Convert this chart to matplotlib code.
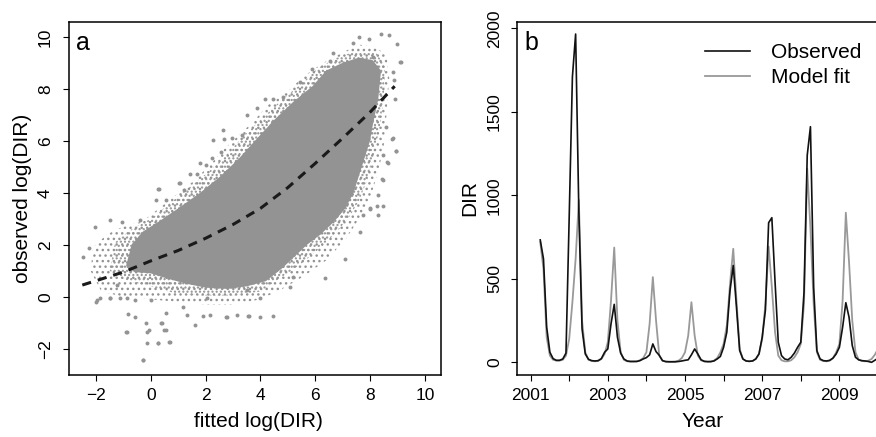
import matplotlib.pyplot as plt
import numpy as np

plt.rcParams['font.family'] = ['Liberation Sans', 'DejaVu Sans']
plt.rcParams['hatch.linewidth'] = 1.0

# ---- panel a: fitted vs observed log(DIR) ----
# outline of the solid part of the point cloud
core_x = [-0.9, -0.7, -0.3, 0.3, 1.0, 1.8, 2.5, 3.2, 3.8, 4.5, 5.2, 5.9, 6.4, 7.0, 7.6, 8.1,
          8.4, 8.3, 8.1, 8.0, 7.7, 7.4, 7.1, 6.7, 6.2, 5.7, 5.2, 4.8,
          4.2, 3.5, 2.8, 2.0, 1.3, 0.6, 0.0, -0.6]
core_y = [1.2, 2.0, 2.5, 2.9, 3.4, 4.0, 4.6, 5.3, 6.0, 6.8, 7.5, 8.1, 8.7, 9.0, 9.2, 9.1,
          8.7, 7.6, 6.6, 6.0, 5.0, 4.0, 3.4, 2.9, 2.4, 2.0, 1.5, 1.1,
          0.6, 0.4, 0.3, 0.35, 0.5, 0.7, 0.9, 0.95]
# outline of the half-dense band around the solid part
mid_x = [-1.5, -1.3, -0.7, 0.0, 0.7, 1.4, 2.1, 2.8, 3.4, 4.1, 4.8, 5.5, 6.1, 6.8, 7.5, 8.2,
         8.55, 8.5, 8.35, 8.15, 7.9, 7.6, 7.2, 6.7, 6.1, 5.4, 4.7, 4.0, 3.0, 2.0, 1.0, 0.0,
         -0.8]
mid_y = [1.0, 2.1, 2.6, 3.0, 3.6, 4.2, 4.8, 5.5, 6.2, 6.9, 7.6, 8.2, 8.8, 9.2, 9.45, 9.4,
         8.9, 7.6, 6.5, 5.5, 4.5, 3.7, 3.0, 2.4, 1.8, 1.2, 0.7, 0.2, 0.05, 0.05, 0.1, 0.4,
         0.6]
# outline of the thin outer fringe
fringe_x = [-2.2, -2.1, -1.6, -1.0, -0.3, 0.3, 0.9, 1.5, 2.1, 2.6, 3.1, 3.7, 4.3, 5.0, 5.6,
            6.3, 7.0, 7.6, 8.2, 8.6, 8.7, 8.6, 8.5, 8.3, 8.0, 7.6, 7.1, 6.4, 5.6, 4.8,
            4.0, 3.0, 2.0, 1.0, 0.0, -1.0, -1.8]
fringe_y = [1.0, 1.9, 2.4, 2.7, 2.9, 3.4, 3.9, 4.4, 5.0, 5.6, 6.1, 6.7, 7.4, 7.9, 8.5,
            9.0, 9.4, 9.7, 9.6, 9.3, 8.4, 7.0, 5.8, 4.8, 3.8, 3.0, 2.2, 1.4, 0.8, 0.3,
            -0.1, -0.3, -0.3, -0.2, -0.1, 0.0, 0.2]
# scattered points outside the cloud
pts_x = [-2.49, -2.24, -2.03, -1.98, -1.85, -1.49, -1.49, -1.12, -0.88, -0.84, -0.88, -0.58,
         -0.58, -0.15, -0.15, -0.27, 0.26, 0.37, 0.48, 0.70, 0.57, 1.61, 1.31, 1.92, 2.15,
         2.77, 3.13, 3.56, 3.99, 4.47, 3.99, 3.50, 5.08, 6.36, 5.20, 7.09, 7.64, 8.30, 8.49,
         8.00, 2.04, 1.19, 0.01, -1.25, -1.04, -0.41, 0.20, 0.30, 0.57, 1.03, 1.22, 1.70,
         2.00, 2.24, 2.55, 2.67, 2.97, 3.34, -0.19, -0.07, 0.42, 0.54, -0.92, -0.28, 0.66,
         0.27, 2.73, 3.58, -2.01, -1.50, 7.61, 7.39, 7.97, 8.40, 8.70, 9.00, 9.09, 8.89,
         8.90, 8.83, 8.95, 8.67, 8.46, 8.60, 6.66, 6.55, 5.87, 5.45, 4.84, 4.47, 4.17, 3.86,
         3.50, 2.62, 2.28, 1.80, 1.43, 1.07, 0.27, 7.27, 6.20, 8.10, 8.81, 8.94, 8.49, 8.43,
         8.30, 8.24, 8.00, 7.76, 8.63, 8.85, 9.12]
pts_y = [1.54, 1.86, 2.67, -0.13, -0.06, -0.04, 2.95, -0.06, -0.04, -0.68, -1.35, -0.78,
         -0.13, -1.35, -1.76, -2.43, -1.77, -1.00, -1.29, -1.74, -0.64, -1.09, -0.70, -0.73,
         -0.70, -0.77, -0.70, -0.74, -0.77, -0.73, -0.06, 0.26, 0.39, 0.73, 0.77, 1.44,
         2.50, 3.14, 3.49, 3.40, -0.06, -0.38, -0.13, 0.45, 2.86, 2.95, 3.72, 4.14, 3.72,
         4.38, 4.10, 4.74, 5.06, 5.32, 5.58, 6.05, 6.09, 6.22, -1.02, -1.28, -1.02, -1.28,
         -1.34, -2.44, -1.73, -1.76, -0.77, -0.73, -0.19, -0.06, 9.98, 9.77, 9.90, 10.09,
         10.06, 9.72, 9.04, 8.33, 7.62, 6.09, 5.62, 5.13, 4.48, 6.54, 9.36, 9.08, 8.78,
         8.27, 7.69, 7.59, 7.59, 7.25, 6.99, 6.41, 6.03, 5.13, 4.74, 4.38, 4.15, 8.72, 8.20,
         9.23, 6.08, 5.59, 5.44, 4.54, 3.90, 3.51, 3.38, 3.13, 5.18, 8.64, 9.03]
# smooth fit (dashed curve)
fit_x = [-2.5, -1.0, 0.0, 1.0, 2.0, 3.0, 4.0, 5.0, 6.0, 7.0, 8.0, 8.9]
fit_y = [0.45, 0.95, 1.38, 1.78, 2.25, 2.78, 3.40, 4.20, 5.13, 6.10, 7.10, 8.10]

# ---- panel b: monthly DIR, first month April 2001 ----
start_year = 2001.25
observed = [733, 620, 210, 60, 22, 12, 12, 20, 55, 870, 1710, 1966,
            900, 200, 50, 18, 10, 8, 10, 22, 60, 80, 230, 347,
            150, 55, 20, 8, 5, 5, 5, 10, 20, 28, 45, 110,
            64, 42, 10, 4, 3, 3, 3, 5, 8, 12, 15, 45,
            80, 50, 15, 6, 4, 4, 8, 20, 35, 90, 180, 430,
            580, 330, 70, 20, 8, 6, 8, 20, 50, 150, 313, 836,
            866, 480, 120, 40, 20, 15, 30, 55, 90, 120, 420, 1240,
            1411, 450, 70, 20, 10, 8, 12, 25, 50, 90, 210, 357,
            270, 100, 30, 15, 10, 8, 5, 0, 12, 25]
model_fit = [720, 560, 150, 40, 15, 10, 10, 15, 40, 140, 360, 620,
             972, 250, 60, 15, 8, 6, 8, 20, 50, 120, 370, 687,
             250, 60, 15, 6, 5, 5, 6, 12, 25, 60, 230, 510,
             250, 40, 10, 5, 4, 4, 5, 10, 25, 60, 160, 360,
             160, 40, 12, 5, 4, 5, 10, 25, 60, 110, 220, 470,
             680, 370, 80, 20, 8, 6, 8, 20, 50, 140, 350, 693,
             450, 180, 40, 12, 6, 6, 12, 30, 60, 110, 350, 1160,
             800, 350, 60, 15, 8, 6, 10, 25, 60, 110, 370, 896,
             600, 250, 60, 15, 8, 6, 10, 20, 45, 80]

point_grey = '#939393'
fig = plt.figure(figsize=(8.76, 4.37), dpi=100)
axa = fig.add_axes([69 / 876, 1 - 375 / 437, 372 / 876, 353 / 437])
axb = fig.add_axes([516.7 / 876, 1 - 375 / 437, 372 / 876, 353 / 437])

# panel a
axa.fill(fringe_x, fringe_y, facecolor='none', edgecolor=point_grey, hatch='...',
         linewidth=0, zorder=1)
axa.fill(mid_x, mid_y, facecolor='none', edgecolor=point_grey, hatch='....',
         linewidth=0, zorder=1)
axa.fill(core_x, core_y, color=point_grey, linewidth=0, zorder=2)
axa.scatter(pts_x, pts_y, s=8, color=point_grey, linewidths=0, zorder=2)
axa.plot(fit_x, fit_y, color='#1a1a1a', lw=2.2, dashes=(3, 2.3), zorder=3)
axa.set_xlim(-2.985, 10.59)
axa.set_ylim(-3.01, 10.57)
axa.set_xticks(range(-2, 11, 2))
axa.set_yticks(range(-2, 11, 2))
axa.set_xlabel('fitted log(DIR)', fontsize=15)
axa.set_ylabel('observed log(DIR)', fontsize=15)
axa.xaxis.set_label_coords(0.51, -0.105)
axa.yaxis.set_label_coords(-0.100, 0.5)
axa.text(0.02, 0.975, 'a', transform=axa.transAxes, fontsize=18, va='top', ha='left')

# panel b
t = start_year + np.arange(len(observed)) / 12
axb.plot(t, model_fit, color='#999999', lw=1.3, label='Model fit', zorder=2)
axb.plot(t, observed, color='#111111', lw=1.2, label='Observed', zorder=3)
axb.set_xlim(2000.64, 2000.64 + 372 / 38.6)
axb.set_ylim(-76, 2038)
axb.set_xticks(range(2001, 2010))
axb.set_xticklabels([str(y) if y % 2 == 1 else '' for y in range(2001, 2010)])
axb.set_yticks([0, 500, 1000, 1500, 2000])
axb.set_xlabel('Year', fontsize=15)
axb.set_ylabel('DIR', fontsize=15)
axb.xaxis.set_label_coords(0.5, -0.105)
axb.yaxis.set_label_coords(-0.1005, 0.5)
axb.text(0.02, 0.975, 'b', transform=axb.transAxes, fontsize=18, va='top', ha='left')
h, l = axb.get_legend_handles_labels()
axb.legend(h[::-1], l[::-1], loc='upper left', bbox_to_anchor=(0.505, 0.94), frameon=False,
           fontsize=15, handlelength=2.2, handletextpad=1.0, labelspacing=0.3,
           borderpad=0, borderaxespad=0)

for ax in (axa, axb):
    for s in ax.spines.values():
        s.set_linewidth(1.1)
    ax.tick_params(direction='out', length=4.5, width=0.8, labelsize=12.5)
    ax.tick_params(axis='x', pad=5)
    for lab in ax.get_yticklabels():
        lab.set_rotation(90)
        lab.set_va('center')
axa.tick_params(axis='y', pad=7)
axb.tick_params(axis='y', pad=6)

fig.savefig('out.png', dpi=100)
